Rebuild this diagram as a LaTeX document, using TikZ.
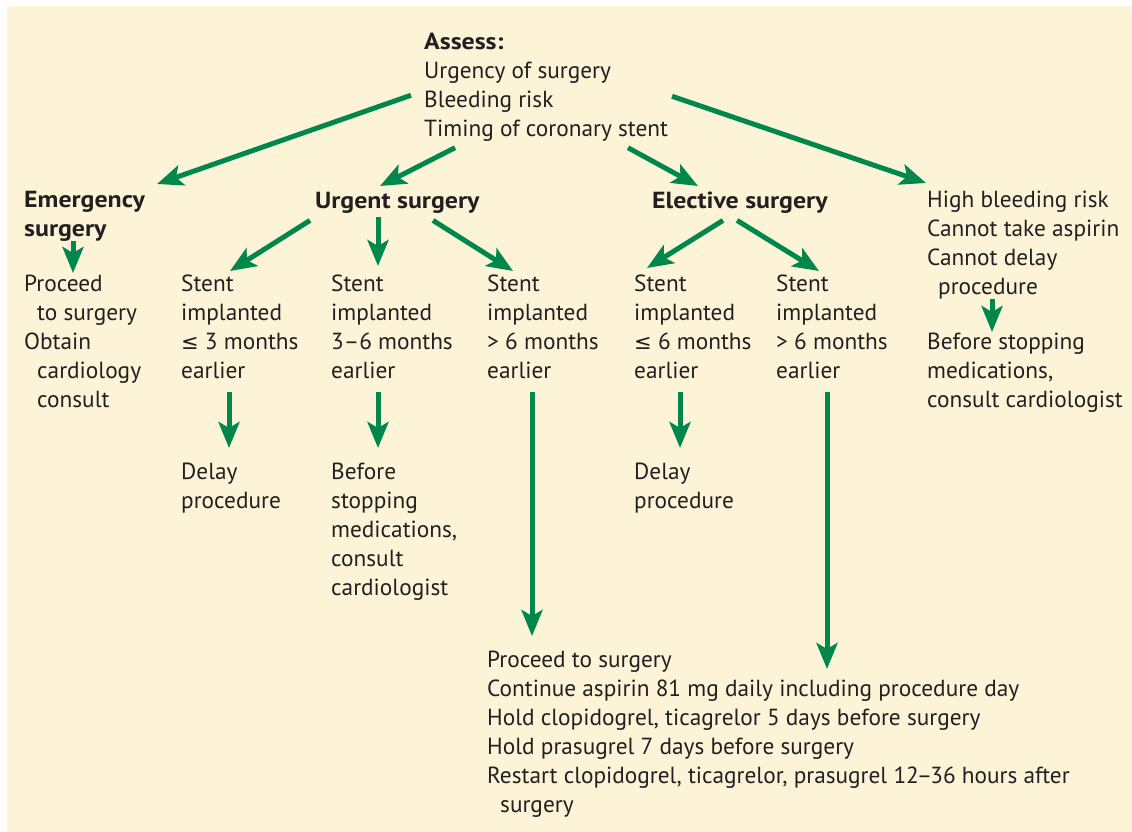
\documentclass[tikz,border=0pt]{standalone}
\usepackage{fontspec}
\setmainfont{PT Sans}[BoldFeatures={FakeStretch=1.11}]
\newfontfamily\symfont{DejaVu Sans}[Scale=0.9]
\usetikzlibrary{arrows.meta}
\definecolor{cream}{HTML}{FDF4D7}
\definecolor{flowgreen}{HTML}{00874C}
\definecolor{ink}{HTML}{231F20}
\newcommand{\flowsize}{\fontsize{23.3}{29}\selectfont}
\newcommand{\leqmark}{{\symfont ≤}}

\begin{document}
\begin{tikzpicture}[x=1pt,y=1pt,
  txt/.style={anchor=north west, inner sep=0pt, align=left, text=ink,
    font=\flowsize, execute at begin node={\flowsize\strut}},
  head/.style={txt, font=\flowsize\bfseries},
  flow/.style={draw=flowgreen, line width=5pt,
    -{Stealth[length=26pt,width=21pt,inset=6pt]}}]
\useasboundingbox (0,0) rectangle (1132,-832);
\fill[cream] (7,-6) rectangle (1132,-832);

% assessment and the four situations
\node[txt] (assess) at (424,-33.2) {\textbf{Assess:}\\Urgency of surgery\\Bleeding risk\\Timing of coronary stent};
\node[head] (emerg) at (24,-191.2) {Emergency\\surgery};
\node[head] (urgent) at (315,-187.7) {Urgent surgery};
\node[head] (elective) at (652,-187.7) {Elective surgery};
\node[txt] (highrisk) at (927,-191.2) {High bleeding risk\\Cannot take aspirin\\Cannot delay\\\hspace*{11pt}procedure};

% timing of the stent
\node[txt] (proceed) at (24,-275.2) {Proceed\\\hspace*{13pt}to surgery\\Obtain\\\hspace*{13pt}cardiology\\\hspace*{13pt}consult};
\node[txt] (stentA) at (181,-275.2) {Stent\\implanted\\\leqmark\ 3 months\\earlier};
\node[txt] (stentB) at (331,-275.2) {Stent\\implanted\\3–6 months\\earlier};
\node[txt] (stentC) at (487,-275.2) {Stent\\implanted\\> 6 months\\earlier};
\node[txt] (stentD) at (634,-275.2) {Stent\\implanted\\\leqmark\ 6 months\\earlier};
\node[txt] (stentE) at (776,-275.2) {Stent\\implanted\\> 6 months\\earlier};

% what to do
\node[txt] (delayA) at (181,-463.2) {Delay\\procedure};
\node[txt] (consultA) at (331,-463.2) {Before\\stopping\\medications,\\consult\\cardiologist};
\node[txt] (delayB) at (634,-463.2) {Delay\\procedure};
\node[txt] (consultB) at (927,-333.2) {Before stopping\\medications,\\consult cardiologist};
\node[txt] (periop) at (487,-651.2) {Proceed to surgery\\Continue aspirin 81 mg daily including procedure day\\Hold clopidogrel, ticagrelor 5 days before surgery\\Hold prasugrel 7 days before surgery\\Restart clopidogrel, ticagrelor, prasugrel 12\kern-2pt–\kern-2pt36 hours after\\\hspace*{13pt}surgery};

% arrows from the assessment
\draw[flow] ([shift={(-13,-5.8)}]assess.west) -- ([shift={(133,7.2)}]emerg.north west);
\draw[flow] ([shift={(31,-2)}]assess.south west) -- ([shift={(65,1.7)}]urgent.north west);
\draw[flow] ([shift={(204,-2)}]assess.south west) -- ([shift={(46,1.7)}]elective.north west);
\draw[flow] ([shift={(248,-6.8)}]assess.west) -- ([shift={(-1,8.2)}]highrisk.north west);

% arrows to the stent timing
\draw[flow] ([shift={(49,4.2)}]emerg.south west) -- ([shift={(49,2.2)}]proceed.north west);
\draw[flow] ([shift={(-5,-3.3)}]urgent.south west) -- ([shift={(49,4.2)}]stentA.north west);
\draw[flow] ([shift={(63,-0.3)}]urgent.south west) -- ([shift={(47,9.2)}]stentB.north west);
\draw[flow] ([shift={(118,-3.3)}]urgent.south west) -- ([shift={(26,4.2)}]stentC.north west);
\draw[flow] ([shift={(71,-3.3)}]elective.south west) -- ([shift={(13,7.2)}]stentD.north west);
\draw[flow] ([shift={(85,-3.3)}]elective.south west) -- ([shift={(43,4.2)}]stentE.north west);
\draw[flow] ([shift={(65,5.2)}]highrisk.south west) -- ([shift={(65,1.2)}]consultB.north west);

% arrows to the actions
\draw[flow] ([shift={(48,-3.8)}]stentA.south west) -- ([shift={(48,15.2)}]delayA.north west);
\draw[flow] ([shift={(47,-3.8)}]stentB.south west) -- ([shift={(47,15.2)}]consultA.north west);
\draw[flow] ([shift={(45,-3.8)}]stentC.south west) -- ([shift={(45,15.2)}]periop.north west);
\draw[flow] ([shift={(46,-3.8)}]stentD.south west) -- ([shift={(46,15.2)}]delayB.north west);
\draw[flow] ([shift={(51,-3.8)}]stentE.south west) -- ([shift={(340,-17.8)}]periop.north west);
\end{tikzpicture}
\end{document}
